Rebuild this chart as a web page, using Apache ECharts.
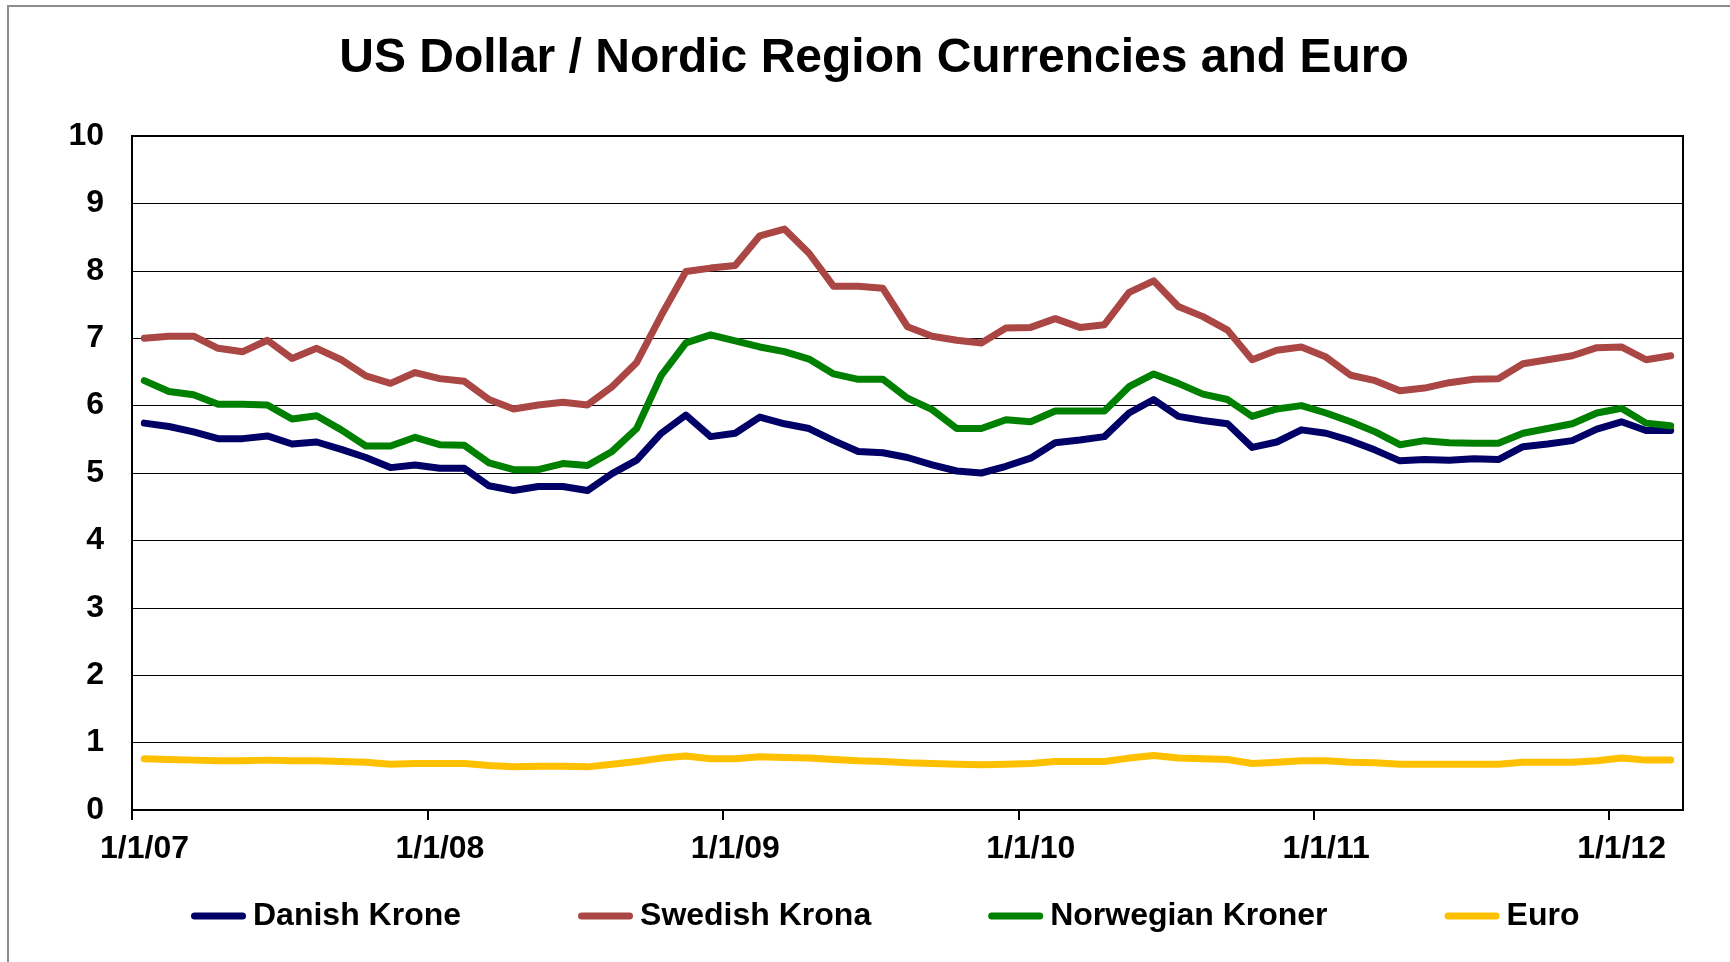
<!DOCTYPE html>
<html>
<head>
<meta charset="utf-8">
<title>US Dollar / Nordic Region Currencies and Euro</title>
<script src="https://cdn.jsdelivr.net/npm/echarts@6.0.0/dist/echarts.min.js"></script>
<style>
    html, body { margin: 0; padding: 0; background: #fff; }
    #chart { width: 1730px; height: 962px; }
</style>
</head>
<body>
<div id="chart"></div>
<script>
// monthly values, Jan 2007 .. Mar 2012
const danishKrone = [
    5.74, 5.69, 5.61, 5.51, 5.51, 5.55, 5.43, 5.46, 5.35, 5.23, 5.08, 5.12,
    5.07, 5.07, 4.81, 4.74, 4.80, 4.80, 4.74, 4.99, 5.19, 5.59, 5.86, 5.54,
    5.59, 5.83, 5.73, 5.66, 5.48, 5.32, 5.30, 5.23, 5.12, 5.03, 5.00, 5.10,
    5.22, 5.45, 5.49, 5.54, 5.89, 6.09, 5.84, 5.78, 5.73, 5.38, 5.46, 5.64,
    5.59, 5.48, 5.34, 5.18, 5.20, 5.19, 5.21, 5.20, 5.39, 5.43, 5.48, 5.65,
    5.76, 5.63, 5.63
];
const swedishKrona = [
    7.00, 7.03, 7.03, 6.85, 6.80, 6.97, 6.70, 6.85, 6.68, 6.44, 6.33, 6.49,
    6.40, 6.36, 6.09, 5.95, 6.01, 6.05, 6.01, 6.28, 6.64, 7.34, 7.99, 8.04,
    8.08, 8.52, 8.62, 8.26, 7.77, 7.77, 7.74, 7.17, 7.03, 6.97, 6.93, 7.15,
    7.16, 7.29, 7.16, 7.20, 7.68, 7.85, 7.47, 7.32, 7.12, 6.68, 6.82, 6.87,
    6.72, 6.45, 6.37, 6.22, 6.26, 6.34, 6.39, 6.40, 6.62, 6.68, 6.74, 6.86,
    6.87, 6.68, 6.74
];
const norwegianKroner = [
    6.37, 6.21, 6.16, 6.02, 6.02, 6.01, 5.80, 5.85, 5.64, 5.40, 5.40, 5.53,
    5.42, 5.41, 5.15, 5.05, 5.05, 5.14, 5.11, 5.32, 5.66, 6.45, 6.93, 7.05,
    6.96, 6.87, 6.80, 6.69, 6.47, 6.39, 6.39, 6.11, 5.94, 5.66, 5.66, 5.79,
    5.76, 5.92, 5.92, 5.92, 6.28, 6.47, 6.33, 6.17, 6.09, 5.84, 5.95, 6.00,
    5.89, 5.76, 5.61, 5.42, 5.48, 5.45, 5.44, 5.44, 5.59, 5.66, 5.73, 5.89,
    5.96, 5.74, 5.70
];
const euro = [
    0.76, 0.75, 0.74, 0.73, 0.73, 0.74, 0.73, 0.73, 0.72, 0.71, 0.68, 0.69,
    0.69, 0.69, 0.66, 0.64, 0.65, 0.65, 0.64, 0.68, 0.72, 0.77, 0.80, 0.76,
    0.76, 0.79, 0.78, 0.77, 0.75, 0.73, 0.72, 0.70, 0.69, 0.68, 0.67, 0.68,
    0.69, 0.72, 0.72, 0.72, 0.77, 0.81, 0.77, 0.76, 0.75, 0.69, 0.71, 0.73,
    0.73, 0.71, 0.70, 0.68, 0.68, 0.68, 0.68, 0.68, 0.71, 0.71, 0.71, 0.73,
    0.77, 0.74, 0.74
];

const seriesNames = ['Danish Krone', 'Swedish Krona', 'Norwegian Kroner', 'Euro'];
const seriesColors = ['#000066', '#AA4643', '#008000', '#FFC000'];

// x axis: months since 1/1/07, labels at each new year
const yearTickMonths = [0, 12, 24, 36, 48, 60];
const yearLabels = ['1/1/07', '1/1/08', '1/1/09', '1/1/10', '1/1/11', '1/1/12'];

const FONT = "'Liberation Sans', Arial, sans-serif";

const chart = echarts.init(document.getElementById('chart'));

// each monthly point sits in the middle of its month
const toPoints = arr => arr.map((v, i) => [i + 0.5, v]);

const option = {
    backgroundColor: '#fff',
    animation: false,
    textStyle: { fontFamily: FONT },
    title: {
        text: 'US Dollar / Nordic Region Currencies and Euro',
        left: 869,
        textAlign: 'center',
        top: 30,
        textStyle: { fontSize: 48, fontWeight: 'bold', color: '#000', fontFamily: FONT }
    },
    graphic: [{
        type: 'rect',
        shape: { x: 8, y: 6, width: 1760, height: 1000 },
        style: { fill: 'none', stroke: '#8c8c8c', lineWidth: 2 },
        silent: true
    }],
    legend: {
        data: seriesNames,
        left: 186,
        top: 895,
        itemWidth: 55,
        itemHeight: 7,
        itemGap: 117,
        icon: 'path://M3.5,0 L51.5,0 A3.5,3.5 0 0 1 51.5,7 L3.5,7 A3.5,3.5 0 0 1 3.5,0 Z',
        textStyle: { fontSize: 32, fontWeight: 'bold', color: '#000', fontFamily: FONT, padding: [0, 0, 0, 2] }
    },
    grid: {
        left: 132,
        right: 47,
        top: 136,
        bottom: 152,
        show: true,
        borderColor: '#000',
        borderWidth: 2,
        containLabel: false
    },
    xAxis: {
        type: 'value',
        min: 0,
        max: 63,
        interval: 12,
        axisLine: { show: true, lineStyle: { color: '#000', width: 2 } },
        axisTick: {
            show: true,
            customValues: yearTickMonths,
            length: 10,
            lineStyle: { color: '#000', width: 2 }
        },
        splitLine: { show: false },
        axisLabel: {
            customValues: yearTickMonths,
            margin: 23,
            formatter: v => '{a|' + yearLabels[yearTickMonths.indexOf(v)] + '}',
            rich: {
                a: { fontSize: 32, fontWeight: 'bold', color: '#000', fontFamily: FONT, padding: [0, 0, 0, 25] }
            }
        }
    },
    yAxis: {
        type: 'value',
        min: 0,
        max: 10,
        interval: 1,
        axisLine: { show: true, lineStyle: { color: '#000', width: 2 } },
        axisTick: { show: false },
        splitLine: { show: true, lineStyle: { color: '#000', width: 1.2 } },
        axisLabel: {
            margin: 28,
            fontSize: 32,
            fontWeight: 'bold',
            color: '#000',
            fontFamily: FONT
        }
    },
    series: [danishKrone, swedishKrona, norwegianKroner, euro].map((arr, k) => ({
        name: seriesNames[k],
        type: 'line',
        data: toPoints(arr),
        showSymbol: false,
        symbol: 'none',
        color: seriesColors[k],
        lineStyle: { width: 7, color: seriesColors[k], cap: 'round', join: 'round' }
    }))
};

chart.setOption(option);
</script>
</body>
</html>
